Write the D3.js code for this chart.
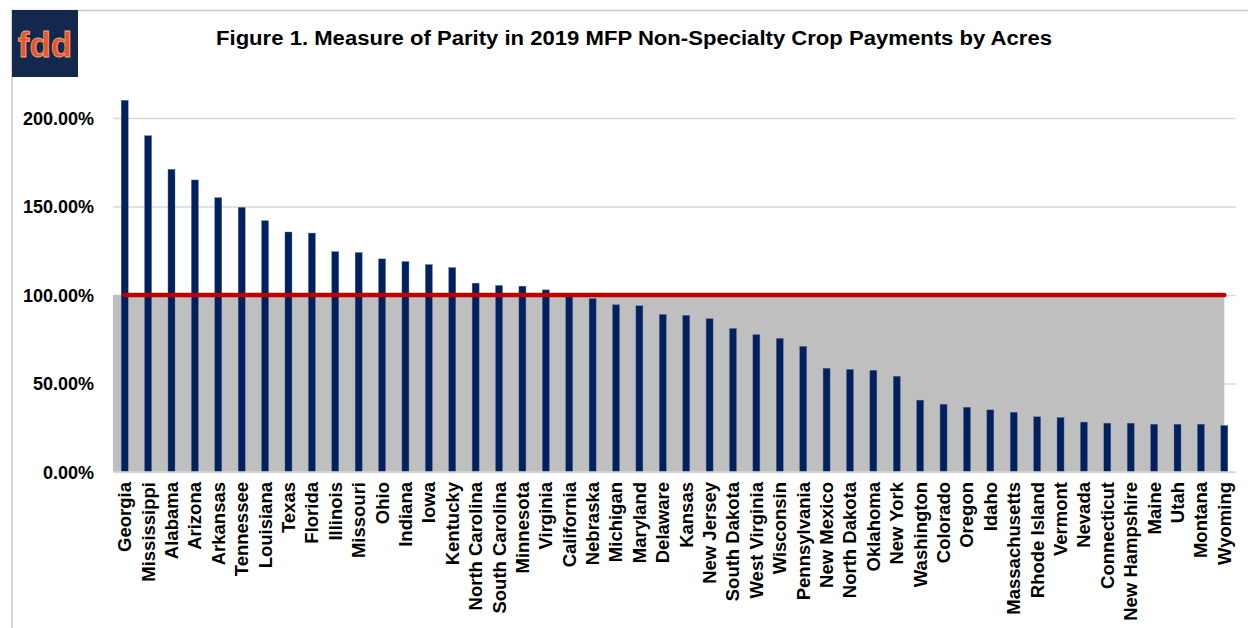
<!DOCTYPE html>
<html lang="en">
<head>
  <meta charset="utf-8">
  <title>Figure 1. Measure of Parity</title>
  <script src="https://d3js.org/d3.v7.min.js"></script>
  <style>
    body { margin: 0; background: #fff; }
    svg { display: block; font-family: "Liberation Sans", Arial, sans-serif; }
  </style>
</head>
<body>
  <svg id="chart" width="1248" height="628"></svg>

  <script>
    // states, sorted as in the figure
    const states = [
      "Georgia", "Mississippi", "Alabama", "Arizona", "Arkansas", "Tennessee",
      "Louisiana", "Texas", "Florida", "Illinois", "Missouri", "Ohio",
      "Indiana", "Iowa", "Kentucky", "North Carolina", "South Carolina", "Minnesota",
      "Virginia", "California", "Nebraska", "Michigan", "Maryland", "Delaware",
      "Kansas", "New Jersey", "South Dakota", "West Virginia", "Wisconsin", "Pennsylvania",
      "New Mexico", "North Dakota", "Oklahoma", "New York", "Washington", "Colorado",
      "Oregon", "Idaho", "Massachusetts", "Rhode Island", "Vermont", "Nevada",
      "Connecticut", "New Hampshire", "Maine", "Utah", "Montana", "Wyoming"
    ]

    // parity ratio (1 = 100%)
    const parity = [
      2.10, 1.90, 1.71, 1.65, 1.55, 1.495,
      1.42, 1.356, 1.35, 1.245, 1.24, 1.204,
      1.189, 1.172, 1.155, 1.067, 1.054, 1.05,
      1.029, 0.995, 0.98, 0.945, 0.939, 0.89,
      0.885, 0.866, 0.811, 0.776, 0.755, 0.71,
      0.586, 0.58, 0.575, 0.541, 0.406, 0.383,
      0.366, 0.351, 0.338, 0.312, 0.308, 0.282,
      0.276, 0.276, 0.27, 0.27, 0.27, 0.263
    ]

    const parityLine = 1.0
    const yTicks = [0, 0.5, 1.0, 1.5, 2.0]

    const title = "Figure 1. Measure of Parity in 2019 MFP Non-Specialty Crop Payments by Acres"

    let svg = d3.select("#chart")

    let plot = { left: 113, right: 1236, top: 118, bottom: 472 }

    let x = d3.scaleBand()
        .domain(states)
        .range([plot.left, plot.right])
        .paddingInner(0.7)
        .paddingOuter(0.35)

    let y = d3.scaleLinear()
        .domain([0, 2])
        .range([plot.bottom, plot.top])

    // outer frame
    svg.append("path")
        .attr("d", `M12,628 L12,10.5 L1248,10.5`)
        .style("fill", "none")
        .style("stroke", "#c8c8c8")
        .style("stroke-width", "1.5px")

    // logo
    svg.append("rect")
        .attr("x", 12)
        .attr("y", 10)
        .attr("width", 66)
        .attr("height", 67)
        .style("fill", "#12284c")

    svg.append("text")
        .attr("x", 45)
        .attr("y", 57)
        .attr("text-anchor", "middle")
        .style("font-size", "35px")
        .style("font-weight", "bold")
        .style("fill", "#ea5428")
        .style("stroke", "#f3a98c")
        .style("stroke-width", "0.8px")
        .text("fdd")

    // title
    svg.append("text")
        .attr("x", 216)
        .attr("y", 45)
        .attr("textLength", 836)
        .attr("lengthAdjust", "spacingAndGlyphs")
        .style("font-size", "20px")
        .style("font-weight", "bold")
        .style("fill", "#000")
        .text(title)

    // y axis + gridlines
    let yAxisSettings = d3.axisLeft(y)
        .tickValues(yTicks)
        .tickSize(-(plot.right - plot.left))
        .tickPadding(19)
        .tickFormat(d3.format(".2%"))

    let yAxisTicks = svg.append("g")
        .attr("class", "y axis")
        .attr("transform", `translate(${plot.left},0)`)
        .call(yAxisSettings)

    yAxisTicks.select(".domain").remove()
    yAxisTicks.selectAll("line")
        .style("stroke", "#d9d9d9")
        .style("stroke-width", "1.5px")
    yAxisTicks.selectAll("text")
        .style("font-size", "18px")
        .style("font-weight", "bold")
        .style("fill", "#000")
        .attr("dy", "0.35em")
        .style("font-family", "Liberation Sans, Arial, sans-serif")

    // grey area under the 100% line
    let lastState = states[states.length - 1]
    let area = d3.area()
        .x((d, i) => i === 0 ? plot.left : x(lastState) + x.bandwidth() / 2)
        .y0(y(0))
        .y1(d => y(d))

    svg.append("path")
        .attr("d", area([parityLine, parityLine]))
        .style("fill", "#bfbfbf")

    // bars
    svg.append("g")
        .selectAll("rect")
        .data(states)
        .join("rect")
        .attr("x", d => x(d))
        .attr("y", (d, i) => y(parity[i]))
        .attr("width", x.bandwidth())
        .attr("height", (d, i) => y(0) - y(parity[i]))
        .style("fill", "#002060")
        .style("stroke", "#5f7397")
        .style("stroke-width", "0.4px")

    // red parity line
    let line = d3.line()
        .x(d => x(d) + x.bandwidth() / 2)
        .y(() => y(parityLine))

    svg.append("path")
        .attr("d", line([states[0], lastState]))
        .style("fill", "none")
        .style("stroke", "#c00000")
        .style("stroke-width", "4.5px")
        .style("stroke-linecap", "round")

    // x axis
    let xAxisTicks = svg.append("g")
        .attr("class", "x axis")
        .attr("transform", `translate(0,${plot.bottom})`)
        .call(d3.axisBottom(x).tickSize(0).tickPadding(0))

    xAxisTicks.select(".domain")
        .attr("d", `M${plot.left},0H${plot.right}`)
        .style("stroke", "#d9d9d9")
        .style("stroke-width", "1.5px")

    xAxisTicks.selectAll("text")
        .attr("transform", "rotate(-90)")
        .attr("text-anchor", "end")
        .attr("x", -10)
        .attr("y", 0)
        .attr("dy", "0.35em")
        .style("font-size", "18.5px")
        .style("font-weight", "bold")
        .style("fill", "#000")
        .style("font-family", "Liberation Sans, Arial, sans-serif")
  </script>
</body>
</html>
